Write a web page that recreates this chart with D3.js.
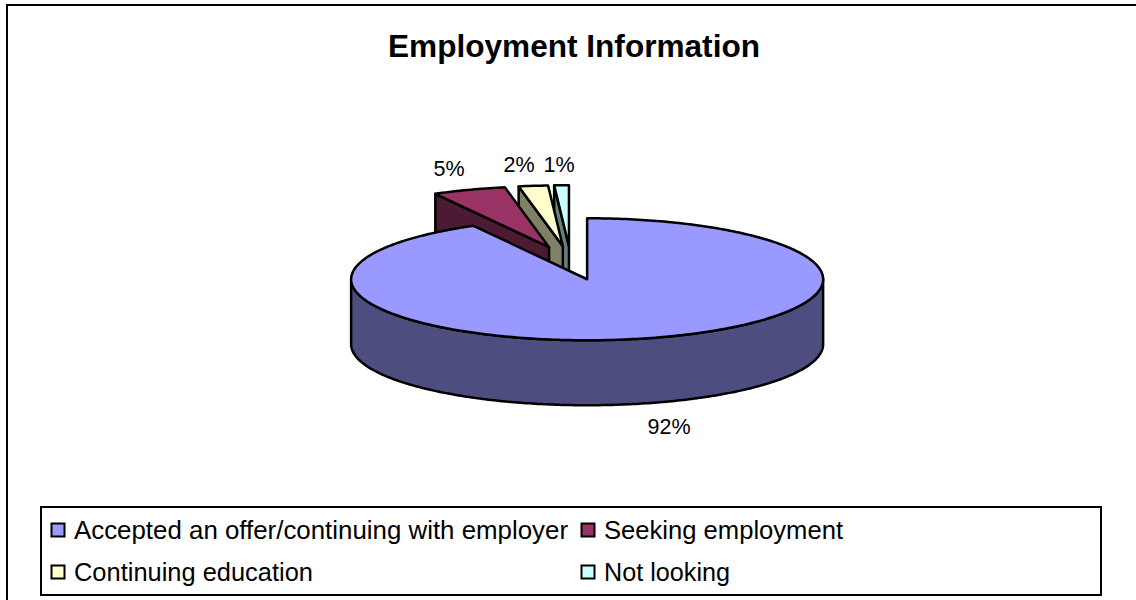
<!DOCTYPE html>
<html><head><meta charset="utf-8">
<script src="https://cdn.jsdelivr.net/npm/d3@7/dist/d3.min.js"></script>
<style>html,body{margin:0;padding:0;background:#fff;overflow:hidden}svg{display:block}text{font-family:"Liberation Sans",Arial,sans-serif;fill:#000}</style>
</head><body>
<script>
const categories = ["Accepted an offer/continuing with employer","Seeking employment","Continuing education","Not looking"];
const values = [92,5,2,1];
const labels = ["92%","5%","2%","1%"];
const topColors = ["#9999ff","#993366","#ffffcc","#ccffff"];
const sideColors = ["#4d4d80","#4d1a33","#808066","#668080"];

const W=1136,H=600;
const svg=d3.select("body").append("svg").attr("width",W).attr("height",H);
svg.append("rect").attr("x",7).attr("y",5).attr("width",W+20).attr("height",H).attr("fill","#fff").attr("stroke","#000").attr("stroke-width",2);
svg.append("text").attr("x",574).attr("y",57).attr("text-anchor","middle").attr("font-size",31.5).attr("font-weight","bold").attr("textLength",372).attr("lengthAdjust","spacingAndGlyphs").text("Employment Information");

const cx=571,cy=263,rx=236,ry=61,depth=65,explode=0.275;
const arcs=d3.pie().sort(null).value(d=>d)(values);
const ex=(t,r)=>r*rx*Math.sin(t), ey=(t,r)=>-r*ry*Math.cos(t);
const line=d3.line();
arcs.forEach(a=>{a.mid=(a.startAngle+a.endAngle)/2;a.ox=cx+ex(a.mid,explode);a.oy=cy+ey(a.mid,explode);
  const n=Math.max(4,Math.ceil((a.endAngle-a.startAngle)*60));
  a.rim=d3.range(n+1).map(k=>a.startAngle+(a.endAngle-a.startAngle)*k/n);});
const g=svg.append("g").attr("stroke","#000").attr("stroke-width",2.5).attr("stroke-linejoin","round");
[3,2,1,0].forEach(i=>{
  const a=arcs[i];
  const pt=t=>[a.ox+ex(t,1),a.oy+ey(t,1)];
  const down=p=>[p[0],p[1]+depth];
  if(i===0){
    const lo=d3.range(0,241).map(k=>Math.PI/2+Math.PI*k/240);
    const top=lo.map(pt), bot=lo.map(t=>down(pt(t))).reverse();
    g.append("path").attr("d",line(top.concat(bot))+"Z").attr("fill",sideColors[i]);
  } else {
    const ap=[a.ox,a.oy], p=pt(a.startAngle);
    g.append("path").attr("d",line([ap,p,down(p),down(ap)])+"Z").attr("fill",sideColors[i]);
  }
  const poly=[[a.ox,a.oy]].concat(a.rim.map(pt));
  g.append("path").attr("d",line(poly)+"Z").attr("fill",topColors[i]);
});
const labelPos=[[669,434],[449,176],[519,172],[559,172]];
labels.forEach((t,i)=>svg.append("text").attr("x",labelPos[i][0]).attr("y",labelPos[i][1]).attr("text-anchor","middle").attr("font-size",21.5).text(t));
svg.append("rect").attr("x",41).attr("y",507).attr("width",1060).attr("height",88).attr("fill","#fff").attr("stroke","#000").attr("stroke-width",2);
const legPos=[[58,530,494],[588,530,239],[58,572,239],[588,572,126]];
categories.forEach((c,i)=>{
  const [x,y,w]=legPos[i];
  svg.append("rect").attr("x",x-6.5).attr("y",y-6.5).attr("width",13).attr("height",13).attr("fill",topColors[i]).attr("stroke","#000").attr("stroke-width",2);
  svg.append("text").attr("x",x+16).attr("y",y+8.5).attr("font-size",25.5).attr("textLength",w).attr("lengthAdjust","spacingAndGlyphs").text(c);
});
</script>
</body></html>
